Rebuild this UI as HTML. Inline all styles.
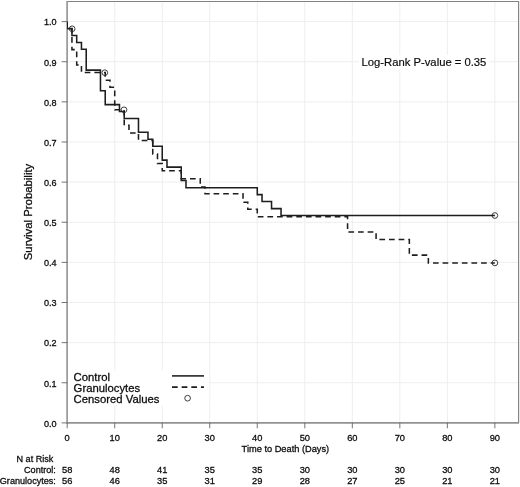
<!DOCTYPE html>
<html><head><meta charset="utf-8"><title>Survival</title>
<style>
html,body{margin:0;padding:0;background:#fff;}
body{width:520px;height:487px;overflow:hidden;}
svg{display:block;will-change:transform;transform:translateZ(0);}
text{font-family:"Liberation Sans",sans-serif;fill:#0c0c0c;stroke:#0c0c0c;stroke-width:0.28px;}
.t9{font-size:9.1px;}
.t9b{font-size:9.25px;}
.t11{font-size:11.3px;}
</style></head><body>
<svg width="520" height="487" viewBox="0 0 520 487">
<rect x="0" y="0" width="520" height="487" fill="#ffffff"/>
<g stroke="#eeeeee" stroke-width="1" fill="none"><line x1="114.72" y1="1.5" x2="114.72" y2="422.85"/><line x1="162.24" y1="1.5" x2="162.24" y2="422.85"/><line x1="209.76" y1="1.5" x2="209.76" y2="422.85"/><line x1="257.28" y1="1.5" x2="257.28" y2="422.85"/><line x1="304.80" y1="1.5" x2="304.80" y2="422.85"/><line x1="352.32" y1="1.5" x2="352.32" y2="422.85"/><line x1="399.84" y1="1.5" x2="399.84" y2="422.85"/><line x1="447.36" y1="1.5" x2="447.36" y2="422.85"/><line x1="494.88" y1="1.5" x2="494.88" y2="422.85"/><line x1="67.1" y1="382.77" x2="518.6" y2="382.77"/><line x1="67.1" y1="342.64" x2="518.6" y2="342.64"/><line x1="67.1" y1="302.51" x2="518.6" y2="302.51"/><line x1="67.1" y1="262.38" x2="518.6" y2="262.38"/><line x1="67.1" y1="222.25" x2="518.6" y2="222.25"/><line x1="67.1" y1="182.12" x2="518.6" y2="182.12"/><line x1="67.1" y1="141.99" x2="518.6" y2="141.99"/><line x1="67.1" y1="101.86" x2="518.6" y2="101.86"/><line x1="67.1" y1="61.73" x2="518.6" y2="61.73"/><line x1="67.1" y1="21.60" x2="518.6" y2="21.60"/></g>
<rect x="358.5" y="55" width="131" height="14" fill="#fff"/>
<rect x="68" y="370.5" width="141.2" height="35" fill="#fff"/>
<path d="M67.1,1.5 H518.6 V422.85" fill="none" stroke="#828282" stroke-width="1.15"/>
<path d="M67.1,1.0 V422.85 H519.1" fill="none" stroke="#929292" stroke-width="1.6"/>
<g stroke="#5c5c5c" stroke-width="0.85" fill="none"><line x1="67.20" y1="422.85" x2="67.20" y2="428.3"/><line x1="114.72" y1="422.85" x2="114.72" y2="428.3"/><line x1="162.24" y1="422.85" x2="162.24" y2="428.3"/><line x1="209.76" y1="422.85" x2="209.76" y2="428.3"/><line x1="257.28" y1="422.85" x2="257.28" y2="428.3"/><line x1="304.80" y1="422.85" x2="304.80" y2="428.3"/><line x1="352.32" y1="422.85" x2="352.32" y2="428.3"/><line x1="399.84" y1="422.85" x2="399.84" y2="428.3"/><line x1="447.36" y1="422.85" x2="447.36" y2="428.3"/><line x1="494.88" y1="422.85" x2="494.88" y2="428.3"/><line x1="61.6" y1="422.90" x2="67.1" y2="422.90"/><line x1="61.6" y1="382.77" x2="67.1" y2="382.77"/><line x1="61.6" y1="342.64" x2="67.1" y2="342.64"/><line x1="61.6" y1="302.51" x2="67.1" y2="302.51"/><line x1="61.6" y1="262.38" x2="67.1" y2="262.38"/><line x1="61.6" y1="222.25" x2="67.1" y2="222.25"/><line x1="61.6" y1="182.12" x2="67.1" y2="182.12"/><line x1="61.6" y1="141.99" x2="67.1" y2="141.99"/><line x1="61.6" y1="101.86" x2="67.1" y2="101.86"/><line x1="61.6" y1="61.73" x2="67.1" y2="61.73"/><line x1="61.6" y1="21.60" x2="67.1" y2="21.60"/></g>
<text class="t9" x="56.6" y="426.70" text-anchor="end">0.0</text><text class="t9" x="56.6" y="386.57" text-anchor="end">0.1</text><text class="t9" x="56.6" y="346.44" text-anchor="end">0.2</text><text class="t9" x="56.6" y="306.31" text-anchor="end">0.3</text><text class="t9" x="56.6" y="266.18" text-anchor="end">0.4</text><text class="t9" x="56.6" y="226.05" text-anchor="end">0.5</text><text class="t9" x="56.6" y="185.92" text-anchor="end">0.6</text><text class="t9" x="56.6" y="145.79" text-anchor="end">0.7</text><text class="t9" x="56.6" y="105.66" text-anchor="end">0.8</text><text class="t9" x="56.6" y="65.53" text-anchor="end">0.9</text><text class="t9" x="56.6" y="25.40" text-anchor="end">1.0</text><text class="t9" x="67.20" y="440.55" text-anchor="middle" style="font-size:9.3px">0</text><text class="t9" x="114.72" y="440.55" text-anchor="middle" style="font-size:9.3px">10</text><text class="t9" x="162.24" y="440.55" text-anchor="middle" style="font-size:9.3px">20</text><text class="t9" x="209.76" y="440.55" text-anchor="middle" style="font-size:9.3px">30</text><text class="t9" x="257.28" y="440.55" text-anchor="middle" style="font-size:9.3px">40</text><text class="t9" x="304.80" y="440.55" text-anchor="middle" style="font-size:9.3px">50</text><text class="t9" x="352.32" y="440.55" text-anchor="middle" style="font-size:9.3px">60</text><text class="t9" x="399.84" y="440.55" text-anchor="middle" style="font-size:9.3px">70</text><text class="t9" x="447.36" y="440.55" text-anchor="middle" style="font-size:9.3px">80</text><text class="t9" x="494.88" y="440.55" text-anchor="middle" style="font-size:9.3px">90</text>
<text class="t9b" x="285.4" y="451.6" text-anchor="middle">Time to Death (Days)</text>
<text transform="translate(32.0,212.0) rotate(-90)" text-anchor="middle" style="font-size:11.35px">Survival Probability</text>
<text class="t9" x="53.4" y="462.1" text-anchor="end">N at Risk</text>
<text class="t9" x="55.9" y="473" text-anchor="end">Control:</text>
<text class="t9" x="55.9" y="483.7" text-anchor="end">Granulocytes:</text>
<text class="t9" x="67.20" y="473" text-anchor="middle" style="font-size:9.3px">58</text><text class="t9" x="67.20" y="483.7" text-anchor="middle" style="font-size:9.3px">56</text><text class="t9" x="114.72" y="473" text-anchor="middle" style="font-size:9.3px">48</text><text class="t9" x="114.72" y="483.7" text-anchor="middle" style="font-size:9.3px">46</text><text class="t9" x="162.24" y="473" text-anchor="middle" style="font-size:9.3px">41</text><text class="t9" x="162.24" y="483.7" text-anchor="middle" style="font-size:9.3px">35</text><text class="t9" x="209.76" y="473" text-anchor="middle" style="font-size:9.3px">35</text><text class="t9" x="209.76" y="483.7" text-anchor="middle" style="font-size:9.3px">31</text><text class="t9" x="257.28" y="473" text-anchor="middle" style="font-size:9.3px">35</text><text class="t9" x="257.28" y="483.7" text-anchor="middle" style="font-size:9.3px">29</text><text class="t9" x="304.80" y="473" text-anchor="middle" style="font-size:9.3px">30</text><text class="t9" x="304.80" y="483.7" text-anchor="middle" style="font-size:9.3px">28</text><text class="t9" x="352.32" y="473" text-anchor="middle" style="font-size:9.3px">30</text><text class="t9" x="352.32" y="483.7" text-anchor="middle" style="font-size:9.3px">27</text><text class="t9" x="399.84" y="473" text-anchor="middle" style="font-size:9.3px">30</text><text class="t9" x="399.84" y="483.7" text-anchor="middle" style="font-size:9.3px">25</text><text class="t9" x="447.36" y="473" text-anchor="middle" style="font-size:9.3px">30</text><text class="t9" x="447.36" y="483.7" text-anchor="middle" style="font-size:9.3px">21</text><text class="t9" x="494.88" y="473" text-anchor="middle" style="font-size:9.3px">30</text><text class="t9" x="494.88" y="483.7" text-anchor="middle" style="font-size:9.3px">21</text>
<text x="361.6" y="66.3" style="font-size:11.25px;stroke-width:0.18px">Log-Rank P-value = 0.35</text>
<clipPath id="cp"><rect x="67.1" y="1.5" width="451.5" height="421.35"/></clipPath>
<g clip-path="url(#cp)"><path d="M67.20,21.60 H67.20 V28.80 H71.95 V49.60 H76.70 V64.90 H81.46 V72.40 H105.22 V80.30 H109.97 V87.20 H114.72 V109.80 H124.22 V125.30 H128.98 V133.00 H138.48 V140.50 H152.74 V154.00 H157.49 V163.40 H162.24 V170.80 H181.25 V178.80 H200.26 V187.00 H205.01 V193.70 H243.02 V202.30 H247.78 V209.30 H257.28 V216.80 H347.57 V232.00 H376.08 V239.50 H409.34 V255.10 H428.35 V262.90 H494.88" fill="none" stroke="#1e1e1e" stroke-width="1.55" stroke-dasharray="5.68 3.94" stroke-dashoffset="-1.0"/>
<path d="M67.20,21.60 H67.20 V28.60 H71.95 V35.50 H76.70 V42.40 H81.46 V49.30 H86.21 V70.10 H100.46 V90.80 H105.22 V104.60 H119.47 V111.40 H124.22 V118.50 H138.48 V132.30 H147.98 V139.20 H152.74 V146.20 H162.24 V160.10 H166.99 V167.10 H181.25 V180.50 H186.00 V187.70 H257.28 V194.60 H262.03 V201.50 H271.54 V208.60 H281.04 V215.50 H494.88" fill="none" stroke="#1e1e1e" stroke-width="1.55"/></g>
<g fill="none" stroke="#2a2a2a" stroke-width="0.9"><circle cx="72.15" cy="28.80" r="2.85"/><circle cx="104.82" cy="72.70" r="2.85"/><circle cx="124.02" cy="109.80" r="2.85"/><circle cx="494.88" cy="215.50" r="2.85"/><circle cx="494.88" cy="262.90" r="2.85"/></g>
<text class="t11" x="73.6" y="380.65">Control</text>
<text class="t11" x="73.6" y="391.65">Granulocytes</text>
<text class="t11" x="73.6" y="402.65">Censored Values</text>
<line x1="172" y1="375.9" x2="204" y2="375.9" stroke="#1e1e1e" stroke-width="1.55"/>
<line x1="172" y1="387.1" x2="204" y2="387.1" stroke="#1e1e1e" stroke-width="1.55" stroke-dasharray="5.7 3.95"/>
<circle cx="187.6" cy="398.2" r="2.85" fill="none" stroke="#2a2a2a" stroke-width="0.9"/>
</svg>
</body></html>
